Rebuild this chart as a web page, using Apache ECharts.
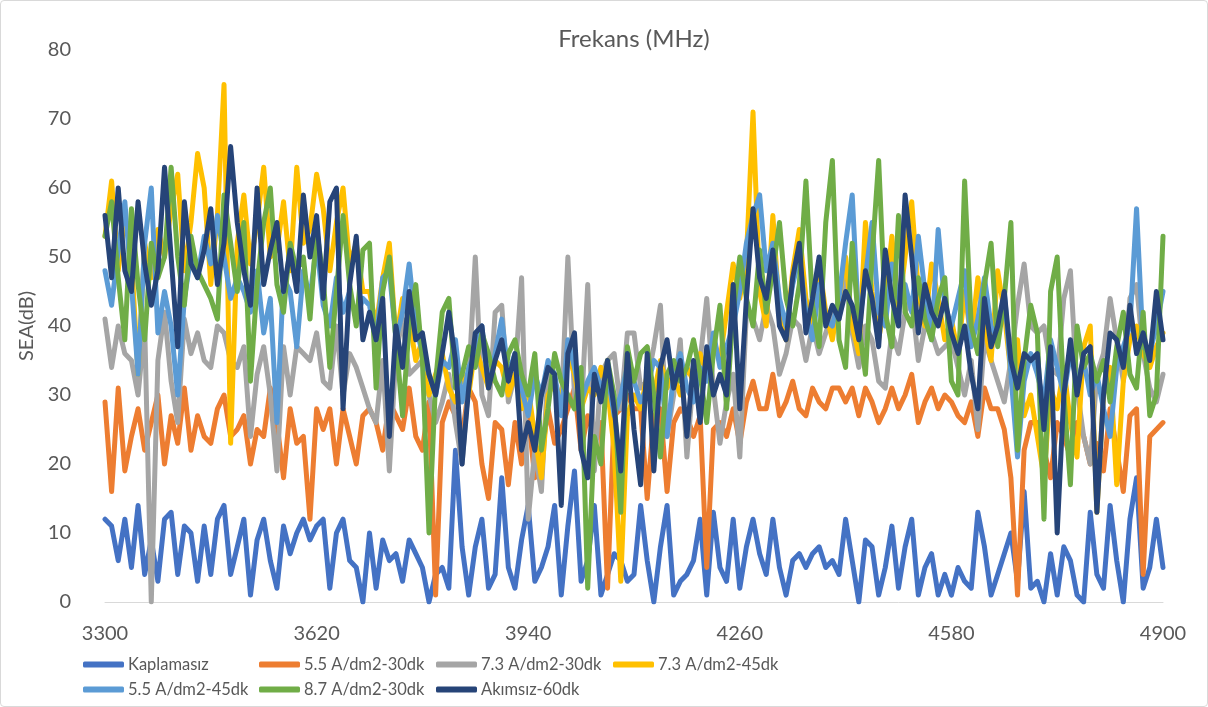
<!DOCTYPE html>
<html>
<head>
<meta charset="utf-8">
<script src="https://cdn.jsdelivr.net/npm/echarts@6/dist/echarts.min.js"></script>
<style>
  html, body { margin: 0; padding: 0; background: #fff; }
  #frame { width: 1208px; height: 707px; box-sizing: border-box; border: 1px solid #d9d9d9; border-radius: 4px; }
  #chart { width: 100%; height: 100%; }
</style>
</head>
<body>
<div id="frame"><div id="chart"></div></div>
<script>
// Frequency sweep: 3300 MHz to 4900 MHz, 10 MHz steps
const FREQ_START = 3300;
const FREQ_END = 4900;
const FREQ_STEP = 10;

const xTicks = [3300, 3620, 3940, 4260, 4580, 4900];

const seriesNames = [
  'Kaplamasız',
  '5.5 A/dm2-30dk',
  '7.3 A/dm2-30dk',
  '7.3 A/dm2-45dk',
  '5.5 A/dm2-45dk',
  '8.7 A/dm2-30dk',
  'Akımsız-60dk'
];

const kaplamasiz = [
  12,11,6,12,5,14,4,9,3,12,13,4,11,10,3,11,4,12,14,4,
  8,12,1,9,12,6,2,11,7,10,12,9,11,12,2,10,12,6,5,0,
  10,2,9,6,7,3,9,7,5,0,4,5,2,22,8,1,8,12,2,4,
  18,5,2,9,14,3,5,8,14,1,11,19,3,6,14,1,4,7,6,3,
  4,14,6,0,8,14,1,3,4,6,12,1,13,5,3,12,2,8,12,7,
  4,12,5,1,6,7,5,7,8,5,6,4,12,6,0,9,8,1,5,11,
  2,8,12,1,5,7,1,4,1,5,3,2,13,8,1,4,7,10,3,16,
  2,3,0,7,1,8,6,1,0,13,4,2,14,6,0,12,18,2,5,12,5
];

const a55_30 = [
  29,16,31,19,24,28,22,26,30,20,27,23,31,22,27,24,23,28,30,24,
  25,27,20,25,24,31,26,18,28,23,24,12,28,25,28,20,28,24,20,27,
  28,26,22,29,27,25,31,24,22,29,1,26,29,27,24,31,29,20,15,26,
  25,17,26,20,27,18,21,28,23,25,28,31,22,27,24,26,2,27,28,30,
  28,28,15,27,28,16,26,28,27,24,27,5,25,26,24,28,23,29,32,28,
  28,33,27,29,32,28,27,31,29,28,31,31,29,31,27,31,29,26,28,31,
  28,30,33,26,29,31,28,30,29,27,26,29,24,31,28,28,25,18,1,22,
  26,26,22,18,26,24,21,26,24,20,23,19,28,22,16,27,28,4,24,25,26
];

const a73_30 = [
  41,34,40,36,35,30,40,0,35,42,32,26,41,36,39,35,34,40,39,35,
  34,37,24,33,37,30,19,37,30,37,36,35,39,32,31,40,30,36,34,31,
  28,26,35,19,36,41,33,34,35,30,26,29,33,26,20,32,50,30,27,42,
  43,29,33,47,12,22,16,34,32,28,50,30,27,46,19,33,35,36,28,39,
  39,31,32,37,43,24,30,38,21,33,35,44,31,23,29,33,21,42,41,38,
  43,40,33,36,41,40,35,40,36,39,42,41,48,39,34,40,38,32,31,39,
  36,42,44,35,40,39,36,37,38,34,30,35,25,38,35,32,29,35,43,49,
  40,39,40,34,33,44,48,31,24,20,33,36,44,38,32,44,46,36,31,29,33
];

const a73_45 = [
  53,61,48,56,50,33,52,47,54,50,57,62,48,55,65,60,46,56,75,23,
  52,59,49,55,63,50,51,58,48,63,52,54,62,57,48,55,60,49,52,45,
  45,40,47,52,38,44,41,35,38,30,33,36,31,29,33,30,37,34,31,35,
  34,30,33,28,31,24,18,30,32,29,36,33,28,31,30,34,31,22,3,27,
  30,28,33,30,35,31,33,30,34,32,36,33,38,35,42,49,44,50,71,45,
  40,56,42,38,48,54,44,40,49,42,38,44,50,40,36,55,45,38,44,53,
  42,50,58,45,40,49,44,38,41,36,45,38,47,40,35,48,42,33,38,27,
  30,24,18,31,28,34,26,21,37,40,13,30,34,17,32,38,40,36,34,37,39
];

const a55_45 = [
  48,43,51,58,46,33,52,60,39,45,40,30,44,50,47,53,49,56,50,44,
  47,45,42,48,39,44,26,47,45,37,48,44,52,43,40,47,42,45,41,44,
  43,38,47,48,38,42,49,40,36,33,30,35,34,38,29,34,36,40,31,36,
  41,33,36,31,27,33,30,35,33,27,38,34,29,32,34,31,33,27,30,34,
  32,29,31,35,34,24,33,36,31,29,34,32,39,34,37,40,45,52,56,59,
  48,52,44,40,46,50,42,38,46,41,40,44,52,59,40,47,55,42,40,49,
  44,46,42,53,45,38,54,43,40,44,48,37,41,47,40,38,45,33,21,32,
  36,33,29,38,34,30,36,32,35,30,33,28,24,34,37,40,57,37,36,40,45
];

const a87_30 = [
  53,58,47,38,57,46,38,52,47,50,63,50,43,53,48,46,44,41,59,52,
  45,55,32,46,55,60,46,42,52,48,50,41,54,47,34,45,56,46,40,51,
  52,31,45,50,38,27,40,46,35,10,32,42,44,31,33,37,34,39,36,32,
  30,36,38,33,30,36,22,28,36,32,30,28,34,2,24,20,35,30,13,37,
  32,36,37,30,21,33,35,32,34,38,33,26,36,43,28,42,50,44,40,51,
  42,48,55,44,40,46,61,43,37,55,64,38,34,52,40,33,50,64,42,37,
  56,42,40,47,41,38,44,47,32,30,61,40,36,46,52,37,44,55,22,35,
  43,39,12,45,50,30,17,40,34,36,32,35,29,37,42,33,31,42,27,30,53
];

const akimsiz60 = [
  56,47,60,48,45,58,49,43,48,63,50,37,58,49,47,51,57,46,52,66,
  55,48,43,60,46,51,55,45,51,45,59,50,56,44,58,60,28,46,53,38,
  42,38,44,24,40,34,45,38,39,33,30,36,42,35,20,31,39,40,31,35,
  38,32,36,22,26,22,30,34,33,14,36,39,22,18,33,29,35,28,19,36,
  25,17,36,19,34,38,31,35,24,35,26,37,30,33,30,46,28,44,57,47,
  44,51,40,38,47,52,39,44,50,40,43,41,45,43,38,48,44,37,51,44,
  40,59,50,39,46,42,40,44,39,36,40,33,28,44,37,40,45,35,31,36,
  35,36,25,37,10,30,38,30,36,37,13,30,39,38,34,43,36,39,35,45,38
];

const seriesValues = [kaplamasiz, a55_30, a73_30, a73_45, a55_45, a87_30, akimsiz60];
const seriesColors = ['#4472C4', '#ED7D31', '#A5A5A5', '#FFC000', '#5B9BD5', '#70AD47', '#264478'];

const freqs = [];
for (let f = FREQ_START; f <= FREQ_END; f += FREQ_STEP) freqs.push(f);

const FONT = 'Lato, "Open Sans", sans-serif';
const TEXT = '#595959';

// Legend laid out as a 4-column grid, two rows
const legendCols = [82, 258, 435, 612];
const legendRows = [655, 680];
const legends = seriesNames.map((name, k) => ({
  left: legendCols[k % 4],
  top: legendRows[Math.floor(k / 4)],
  padding: 0,
  itemWidth: 41,
  itemHeight: 6,
  itemGap: 0,
  icon: 'roundRect',
  data: [name],
  selectedMode: false,
  textStyle: { fontFamily: FONT, fontSize: 16.5, color: TEXT, padding: [0, 0, 0, -1] }
}));

const chart = echarts.init(document.getElementById('chart'), null, { renderer: 'canvas' });

chart.setOption({
  animation: false,
  color: seriesColors,
  textStyle: { fontFamily: FONT, color: TEXT },
  title: {
    text: 'Frekans (MHz)',
    left: 628,
    textAlign: 'center',
    top: 21,
    textStyle: { fontFamily: FONT, fontSize: 24, fontWeight: 'normal', color: TEXT }
  },
  grid: { left: 104, right: 44, top: 49, bottom: 104 },
  xAxis: {
    type: 'value',
    min: FREQ_START,
    max: FREQ_END,
    interval: xTicks[1] - xTicks[0],
    axisLine: { show: true, lineStyle: { color: '#d9d9d9', width: 1 } },
    axisTick: { show: false },
    splitLine: { show: false },
    axisLabel: {
      fontFamily: FONT, fontSize: 20, color: TEXT, margin: 22,
      formatter: v => String(v)
    }
  },
  yAxis: {
    type: 'value',
    min: 0,
    max: 80,
    interval: 10,
    name: 'SEA(dB)',
    nameLocation: 'middle',
    nameRotate: 90,
    nameGap: 68,
    nameTextStyle: { fontFamily: FONT, fontSize: 20, color: TEXT },
    axisLine: { show: false },
    axisTick: { show: false },
    splitLine: { show: false },
    axisLabel: { fontFamily: FONT, fontSize: 20, color: TEXT, margin: 34 }
  },
  legend: legends,
  series: seriesNames.map((name, k) => ({
    name: name,
    type: 'line',
    showSymbol: false,
    symbol: 'none',
    data: freqs.map((f, i) => [f, seriesValues[k][i]]),
    lineStyle: { width: 5, color: seriesColors[k], cap: 'round', join: 'round' },
    itemStyle: { color: seriesColors[k] },
    z: 2 + k
  }))
});
</script>
</body>
</html>
